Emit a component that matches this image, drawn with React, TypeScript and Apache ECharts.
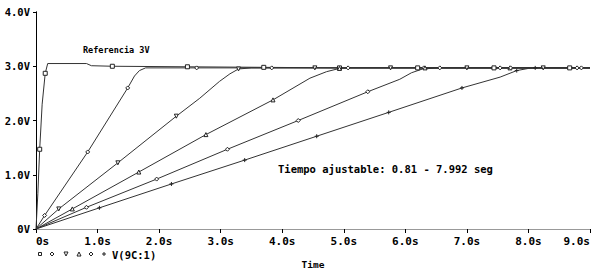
import React, { useEffect, useRef } from "react";
import * as echarts from "echarts";

// [time s, voltage V, marker flag]
const traceSquare: number[][] = [
  [0, 0, 0], [0.03, 0.65, 0], [0.06, 1.47, 1], [0.1, 2.3, 0], [0.15, 2.87, 1], [0.19, 3.05, 0],
  [0.82, 3.05, 0], [0.9, 3.01, 0], [1.24, 3.0, 1], [2.46, 2.99, 1], [3.7, 2.98, 1], [4.93, 2.97, 1],
  [6.2, 2.97, 1], [7.44, 2.97, 1], [8.67, 2.97, 1], [9, 2.97, 0],
];
const traceDiamond: number[][] = [
  [0, 0, 0], [0.14, 0.25, 1], [0.84, 1.42, 1], [1.49, 2.6, 1], [1.6, 2.82, 0], [1.68, 2.92, 0],
  [1.78, 2.97, 0], [2.61, 2.97, 1], [3.83, 2.97, 1], [5.07, 2.97, 1], [6.3, 2.97, 1], [7.54, 2.97, 1],
  [8.79, 2.97, 1], [9, 2.97, 0],
];
const traceDown: number[][] = [
  [0, 0, 0], [0.37, 0.37, 1], [1.33, 1.22, 1], [2.28, 2.08, 1], [2.66, 2.41, 0], [2.98, 2.72, 0],
  [3.15, 2.86, 0], [3.29, 2.95, 1], [3.5, 2.97, 0], [4.53, 2.97, 1], [5.76, 2.97, 1], [7.0, 2.97, 1],
  [8.24, 2.97, 1], [9, 2.97, 0],
];
const traceUp: number[][] = [
  [0, 0, 0], [0.59, 0.37, 1], [1.67, 1.05, 1], [2.76, 1.74, 1], [3.85, 2.38, 1], [4.45, 2.78, 0],
  [4.72, 2.9, 0], [4.93, 2.96, 1], [5.1, 2.97, 0], [6.32, 2.97, 1], [7.7, 2.97, 1], [9, 2.97, 0],
];
const traceDiamond2: number[][] = [
  [0, 0, 0], [0.82, 0.4, 1], [1.96, 0.92, 1], [3.11, 1.47, 1], [4.26, 2.0, 1], [5.39, 2.53, 1],
  [5.91, 2.76, 0], [6.1, 2.88, 0], [6.28, 2.95, 0], [6.56, 2.97, 1], [7.71, 2.97, 1], [8.86, 2.97, 1],
  [9, 2.97, 0],
];
const tracePlus: number[][] = [
  [0, 0, 0], [1.03, 0.39, 1], [2.2, 0.83, 1], [3.39, 1.27, 1], [4.56, 1.71, 1], [5.73, 2.15, 1],
  [6.92, 2.6, 1], [7.54, 2.8, 0], [7.81, 2.92, 1], [8.0, 2.96, 0], [8.11, 2.97, 1], [9, 2.97, 0],
];

const xTicks = { min: 0, max: 9, step: 1 };
const yTicks = { min: 0, max: 4, step: 1 };
const traceName = "V(9C:1)";
const refText = "Referencia 3V";
const noteText = "Tiempo ajustable: 0.81 - 7.992 seg";

const PLUS = "path://M0,4L8,4M4,0L4,8";
const FONT = "'DejaVu Sans Mono', monospace";
const INK = "#222";

function build(points: number[][], symbol: string, rotate: number, id: string) {
  return {
    type: "line",
    name: id,
    data: points.map((p) =>
      p[2]
        ? { value: [p[0], p[1]], symbol, symbolSize: 4, symbolRotate: rotate }
        : { value: [p[0], p[1]], symbol: "none" }
    ),
    showSymbol: true,
    symbol: "none",
    lineStyle: { color: "#333", width: 1 },
    itemStyle: { color: "#fff", borderColor: INK, borderWidth: 1 },
    emphasis: { disabled: true },
    silent: true,
    z: 3,
  };
}

export default function App() {
  const ref = useRef<HTMLDivElement>(null);
  useEffect(() => {
    if (!ref.current) return;
    const chart = echarts.init(ref.current, undefined, { renderer: "svg" });
    const axisText = { color: "#000", fontFamily: FONT, fontWeight: "bold" as const };
    chart.setOption({
      animation: false,
      backgroundColor: "#fff",
      grid: { left: 36, right: 13, top: 12, bottom: 48 },
      xAxis: [
        {
          type: "value",
          min: xTicks.min,
          max: xTicks.max,
          interval: xTicks.step,
          name: "Time",
          nameLocation: "middle",
          nameGap: 30,
          nameTextStyle: { ...axisText, fontSize: 9.5 },
          axisLine: { lineStyle: { color: "#000", width: 1 } },
          axisTick: { show: true, length: 4, lineStyle: { color: "#000" } },
          axisLabel: {
            ...axisText,
            fontSize: 11,
            margin: 7,
            alignMinLabel: "left",
            alignMaxLabel: "right",
            formatter: (v: number) => (v === 0 ? "0s" : v.toFixed(1) + "s"),
          },
          splitLine: { show: false },
        },
        {
          type: "value",
          position: "top",
          min: xTicks.min,
          max: xTicks.max,
          axisLine: { show: true, lineStyle: { color: "#999", width: 1 } },
          axisTick: { show: false },
          axisLabel: { show: false },
          splitLine: { show: false },
        },
      ],
      yAxis: [
        {
          type: "value",
          min: yTicks.min,
          max: yTicks.max,
          interval: yTicks.step,
          axisLine: { show: true, lineStyle: { color: "#000", width: 1 } },
          axisTick: { show: true, length: 3, lineStyle: { color: "#000" } },
          axisLabel: {
            ...axisText,
            fontSize: 10.5,
            margin: 6,
            formatter: (v: number) => (v === 0 ? "0V" : v.toFixed(1) + "V"),
          },
          splitLine: { show: false },
        },
        {
          type: "value",
          position: "right",
          min: yTicks.min,
          max: yTicks.max,
          axisLine: { show: true, lineStyle: { color: "#000", width: 1 } },
          axisTick: { show: false },
          axisLabel: { show: false },
          splitLine: { show: false },
        },
      ],
      series: [
        build(traceSquare, "rect", 0, "s1"),
        build(traceDiamond, "diamond", 0, "s2"),
        build(traceDown, "triangle", 180, "s3"),
        build(traceUp, "triangle", 0, "s4"),
        build(traceDiamond2, "diamond", 0, "s5"),
        build(tracePlus, PLUS, 0, "s6"),
      ],
      graphic: [
        {
          type: "text",
          left: 83,
          top: 45,
          style: { text: refText, fill: "#000", font: `bold 8.5px ${FONT}` },
        },
        {
          type: "text",
          left: 278,
          top: 163,
          style: { text: noteText, fill: "#000", font: `bold 10.5px ${FONT}` },
        },
        { type: "rect", shape: { x: 38.5, y: 252.5, width: 3, height: 3 }, style: { fill: "#fff", stroke: INK, lineWidth: 1 } },
        { type: "polygon", shape: { points: [[52, 252], [54, 254], [52, 256], [50, 254]] }, style: { fill: "#fff", stroke: INK, lineWidth: 1 } },
        { type: "polygon", shape: { points: [[64, 252], [68, 252], [66, 256]] }, style: { fill: "#fff", stroke: INK, lineWidth: 1 } },
        { type: "polygon", shape: { points: [[77, 256], [81, 256], [79, 252]] }, style: { fill: "#fff", stroke: INK, lineWidth: 1 } },
        { type: "polygon", shape: { points: [[91, 252], [93, 254], [91, 256], [89, 254]] }, style: { fill: "#fff", stroke: INK, lineWidth: 1 } },
        { type: "line", shape: { x1: 102, y1: 254, x2: 106, y2: 254 }, style: { stroke: INK, lineWidth: 1 } },
        { type: "line", shape: { x1: 104, y1: 252, x2: 104, y2: 256 }, style: { stroke: INK, lineWidth: 1 } },
        {
          type: "text",
          left: 112,
          top: 249,
          style: { text: traceName, fill: "#000", font: `bold 10.5px ${FONT}` },
        },
      ],
    });
    return () => chart.dispose();
  }, []);
  return (
    <div
      ref={ref}
      style={{ position: "fixed", left: 0, top: 0, width: 603, height: 277, background: "#fff" }}
    />
  );
}
